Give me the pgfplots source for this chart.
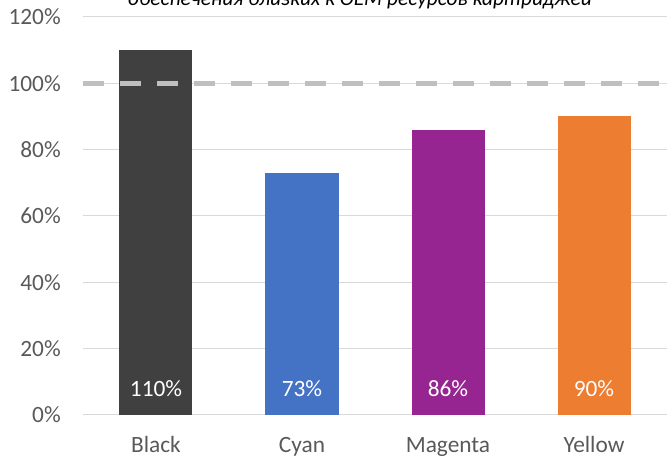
\documentclass[border=0pt]{standalone}
\usepackage{pgfplots}
\pgfplotsset{compat=1.18}
\usepackage{fontspec}
\setmainfont{Carlito}

\definecolor{txtgray}{HTML}{595959}
\definecolor{gridgray}{HTML}{D9D9D9}
\definecolor{dashgray}{HTML}{BFBFBF}
\definecolor{cblack}{HTML}{404040}
\definecolor{ccyan}{HTML}{4472C4}
\definecolor{cmagenta}{HTML}{962491}
\definecolor{cyellow}{HTML}{ED7D31}

\begin{document}
\begin{tikzpicture}
\begin{axis}[
    scale only axis,
    width=438pt, height=298.5pt,
    xmin=-0.5, xmax=3.5,
    ymin=0, ymax=120,
    axis line style={draw=none},
    major tick length=0pt,
    ymajorgrids,
    major grid style={gridgray, line width=0.75pt},
    xtick={0,1,2,3},
    xticklabels={Black, Cyan, Magenta, Yellow},
    ytick={0,20,40,60,80,100,120},
    yticklabels={0\%,20\%,40\%,60\%,80\%,100\%,120\%},
    tick label style={font=\fontsize{17.5pt}{21pt}\selectfont, text=txtgray},
    xticklabel style={anchor=base, yshift=-28pt},
    yticklabel style={anchor=east, inner sep=0pt, xshift=-16.5pt},
]
\addplot[ybar, bar width=0.5, bar shift=0pt, fill=cblack, draw=none] coordinates {(0,110)};
\addplot[ybar, bar width=0.5, bar shift=0pt, fill=ccyan, draw=none] coordinates {(1,73)};
\addplot[ybar, bar width=0.5, bar shift=0pt, fill=cmagenta, draw=none] coordinates {(2,86)};
\addplot[ybar, bar width=0.5, bar shift=0pt, fill=cyellow, draw=none] coordinates {(3,90)};
\addplot[dashgray, line width=3.5pt, dash pattern=on 15.75pt off 12pt, mark=none]
    coordinates {(-0.5,100) (3.5,100)};
\addplot[draw=none, mark=none, nodes near coords, point meta=explicit symbolic,
    every node near coord/.style={anchor=base, yshift=13.5pt, text=white,
        font=\fontsize{17.5pt}{21pt}\selectfont}]
    coordinates {(0,0) [110\%] (1,0) [73\%] (2,0) [86\%] (3,0) [90\%]};
\end{axis}
\node[font=\fontsize{16pt}{19pt}\selectfont\itshape, anchor=base] at (207.75pt,306.75pt)
    {обеспечения близких к OEM ресурсов картриджей};
\pgfresetboundingbox
\useasboundingbox (-62.25pt,-33pt) rectangle (438pt,311.25pt);
\end{tikzpicture}
\end{document}
